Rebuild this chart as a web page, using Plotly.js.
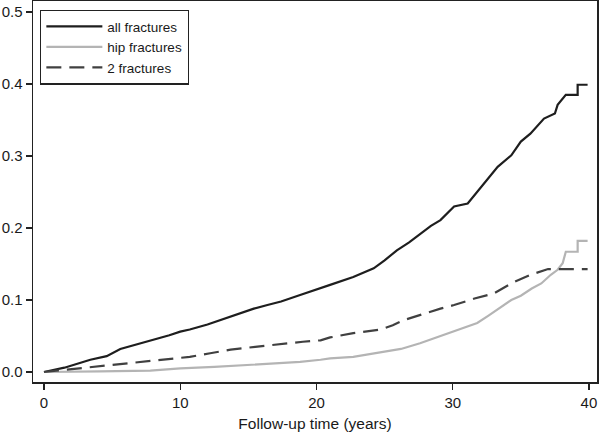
<!DOCTYPE html>
<html>
<head>
<meta charset="utf-8">
<script src="https://cdn.plot.ly/plotly-3.0.1.min.js"></script>
<style>html,body{margin:0;padding:0;background:#fff;}#chart{width:601px;height:435px;}</style>
</head>
<body>
<div id="chart"></div>
<script>
// Series names
var seriesNames = ["all fractures", "hip fractures", "2 fractures"];

// all fractures (years, cumulative incidence)
var allX = [0, 1.5, 3.4, 4.6, 5.6, 6.8, 8.0, 9.2, 10.0, 10.7, 12.0, 12.9, 14.2, 15.4, 16.4, 17.4, 18.8, 20.3, 21.0, 22.7, 24.2, 25.0, 25.9, 26.8, 27.7, 28.4, 29.1, 30.1, 31.1, 32.1, 32.7, 33.3, 34.3, 35.0, 35.7, 36.7, 37.5, 37.7, 38.3, 39.17, 39.17, 39.9];
var allY = [0, 0.006, 0.017, 0.022, 0.032, 0.038, 0.045, 0.051, 0.056, 0.059, 0.066, 0.072, 0.080, 0.088, 0.093, 0.098, 0.107, 0.116, 0.121, 0.132, 0.144, 0.155, 0.169, 0.180, 0.193, 0.203, 0.211, 0.230, 0.234, 0.257, 0.272, 0.285, 0.301, 0.320, 0.331, 0.352, 0.359, 0.371, 0.385, 0.385, 0.399, 0.399];

// hip fractures
var hipX = [0, 2.0, 4.1, 7.8, 10.0, 12.5, 14.9, 16.8, 18.8, 20.3, 21.0, 22.7, 24.5, 26.2, 27.6, 28.5, 29.4, 30.6, 31.8, 32.6, 33.5, 34.3, 35.0, 35.8, 36.5, 37.2, 37.7, 38.07, 38.3, 39.17, 39.17, 39.9];
var hipY = [0, 0, 0.001, 0.002, 0.005, 0.007, 0.010, 0.012, 0.014, 0.017, 0.019, 0.021, 0.027, 0.032, 0.040, 0.046, 0.052, 0.061, 0.068, 0.078, 0.089, 0.100, 0.106, 0.116, 0.123, 0.135, 0.142, 0.151, 0.167, 0.167, 0.182, 0.182];

// 2 fractures
var twoX = [0, 1.5, 3.4, 5.2, 7.1, 8.8, 10.0, 10.7, 12.2, 13.7, 15.5, 17.4, 19.0, 20.3, 21.0, 22.7, 24.7, 25.6, 26.4, 27.4, 28.4, 29.1, 30.1, 31.6, 33.0, 33.8, 34.5, 35.7, 37.0, 38.0, 39.9];
var twoY = [0, 0.003, 0.0065, 0.010, 0.014, 0.018, 0.020, 0.021, 0.026, 0.031, 0.035, 0.039, 0.042, 0.044, 0.048, 0.054, 0.059, 0.065, 0.072, 0.078, 0.084, 0.088, 0.093, 0.102, 0.109, 0.117, 0.125, 0.135, 0.143, 0.143, 0.143];

// Tick labels
var xTicks = [0, 10, 20, 30, 40];
var yTicks = [0, 0.1, 0.2, 0.3, 0.4, 0.5];
var yTickText = ["0.0", "0.1", "0.2", "0.3", "0.4", "0.5"];

var traces = [
  {x: allX, y: allY, name: seriesNames[0], type: "scatter", mode: "lines",
   line: {color: "#1e1e1e", width: 2.2, shape: "linear"}, legendgroup: "a"},
  {x: hipX, y: hipY, name: seriesNames[1], type: "scatter", mode: "lines",
   line: {color: "#b4b4b4", width: 2.2, shape: "linear"}, legendgroup: "b"},
  {x: twoX, y: twoY, name: seriesNames[2], type: "scatter", mode: "lines",
   line: {color: "#404040", width: 2.2, dash: "15px,8px", shape: "linear"}, legendgroup: "c"}
];

var font = {family: "Liberation Sans, Arial, Helvetica, sans-serif", color: "#1a1a1a"};

var layout = {
  width: 601, height: 435,
  margin: {l: 33, r: 4, t: 1, b: 53},
  paper_bgcolor: "#ffffff", plot_bgcolor: "#ffffff",
  font: {family: font.family, color: font.color, size: 14},
  showlegend: true,
  legend: {
    x: 0.0125, y: 0.977, xanchor: "left", yanchor: "top",
    bordercolor: "#222", borderwidth: 1.3, bgcolor: "#fff",
    font: {size: 13.5, family: font.family, color: "#1a1a1a"},
    itemwidth: 56, tracegroupgap: 4, traceorder: "normal"
  },
  xaxis: {
    range: [-0.807, 40.59], tickmode: "array", tickvals: xTicks, ticktext: xTicks.map(String),
    ticks: "outside", ticklen: 6, tickwidth: 1.3, tickcolor: "#222",
    showline: true, linecolor: "#222", linewidth: 1.5, mirror: true,
    showgrid: false, zeroline: false,
    tickfont: {size: 15, family: font.family, color: "#1a1a1a"},
    title: {text: "Follow-up time (years)", font: {size: 15.5, family: font.family, color: "#1a1a1a"}, standoff: 8}
  },
  yaxis: {
    range: [-0.01389, 0.5153], tickmode: "array", tickvals: yTicks, ticktext: yTickText,
    ticks: "outside", ticklen: 6, tickwidth: 1.3, tickcolor: "#222",
    showline: true, linecolor: "#222", linewidth: 1.5, mirror: true,
    showgrid: false, zeroline: false,
    tickfont: {size: 15, family: font.family, color: "#1a1a1a"}
  }
};

Plotly.newPlot("chart", traces, layout, {displayModeBar: false, staticPlot: true});
</script>
</body>
</html>
